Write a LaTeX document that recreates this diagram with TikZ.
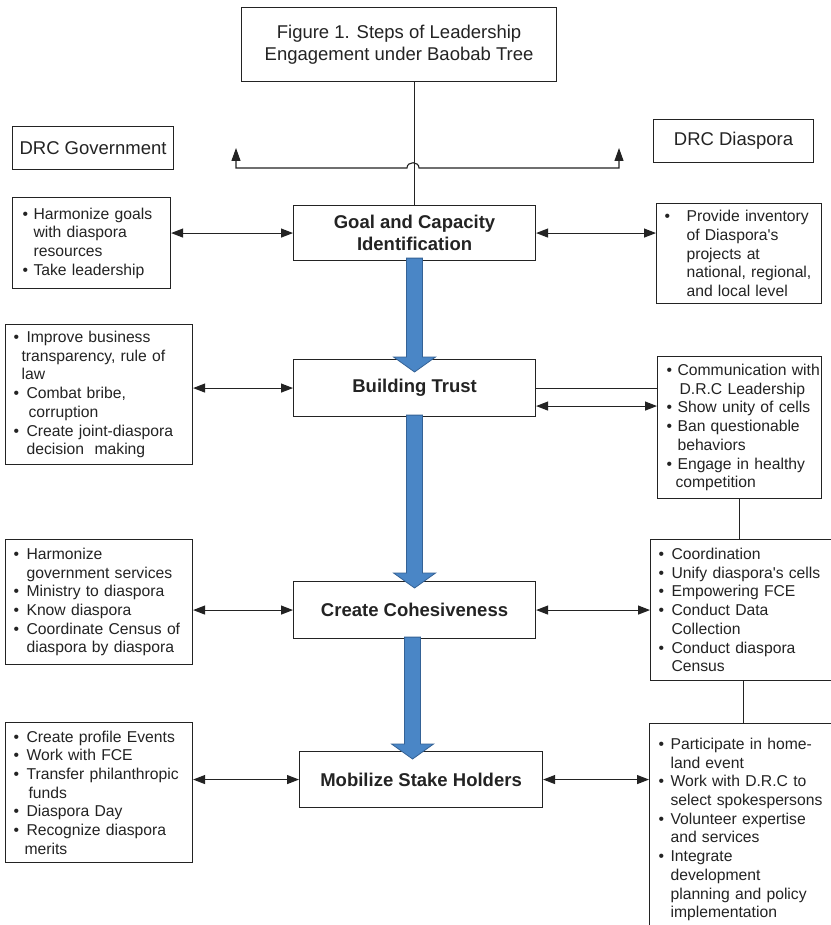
\documentclass[tikz,border=0pt]{standalone}
\usepackage{fontspec}
\setmainfont{Liberation Sans}
\usetikzlibrary{arrows.meta,calc}
\definecolor{arrowblue}{RGB}{74,134,198}
\definecolor{arrowedge}{RGB}{52,98,150}
\definecolor{ink}{RGB}{35,35,35}
\newcommand\bl[2][13pt]{\mbox{\makebox[#1][l]{\textbullet}#2}}
\newcommand\cl[2][13pt]{\mbox{\hspace*{#1}#2}}
\newcommand\apos{\textquotesingle}
\newcommand\blockarrow[2]{\filldraw[fill=arrowblue,draw=arrowedge,line width=0.8pt]
  let \p1=(#1), \p2=(#2) in
  (\x1-8pt,\y1) -- (\x1+8pt,\y1) -- (\x1+8pt,\y2+15pt) -- (\x1+21pt,\y2+15pt)
  -- (\x1,\y2) -- (\x1-21pt,\y2+15pt) -- (\x1-8pt,\y2+15pt) -- cycle;}
\begin{document}
\begin{tikzpicture}[x=1pt,y=-1pt,
  box/.style={draw=ink, line width=1.1pt, anchor=north west, inner ysep=0pt, text=ink},
  listbox/.style={box, align=left, font=\fontsize{15.7}{18.7}\selectfont},
  stepbox/.style={box, align=center, font=\bfseries\fontsize{18.5}{21.7}\selectfont},
  labelbox/.style={box, align=center, font=\fontsize{18.5}{21.7}\selectfont},
  link/.style={draw=ink, line width=1.1pt},
  dbl/.style={link, {Triangle[length=12pt,width=9pt]}-{Triangle[length=12pt,width=9pt]}}
]
\path[use as bounding box, fill=white] (0,0) rectangle (830,925);

% title and labels
\node[labelbox, minimum width=315pt, minimum height=74pt] (title) at (241,7)
  {Figure 1. Steps of Leadership\\Engagement under Baobab Tree};
\node[labelbox, minimum width=161pt, minimum height=43pt] (gov) at (12,126) {DRC Government};
\node[labelbox, minimum width=160pt, minimum height=43pt] (dia) at (653,119) {DRC Diaspora};

% central steps
\node[stepbox, minimum width=242pt, minimum height=55pt] (goal) at (293,205)
  {Goal and Capacity\\Identification};
\node[stepbox, minimum width=242pt, minimum height=57pt] (trust) at (293,359) {Building Trust};
\node[stepbox, minimum width=242pt, minimum height=57pt] (coh) at (293,581) {Create Cohesiveness};
\node[stepbox, minimum width=243pt, minimum height=56pt] (mob) at (299,751) {Mobilize Stake Holders};

% left boxes
\node[listbox, minimum width=158pt, minimum height=91pt, inner xsep=10pt, text width=138pt] (goalL) at (12,197)
  {\bl[11pt]{Harmonize goals}\\ \cl[11pt]{with diaspora}\\ \cl[11pt]{resources}\\ \bl[11pt]{Take leadership}};
\node[listbox, minimum width=187pt, minimum height=140pt, inner xsep=8pt, text width=171pt] (trustL) at (5,324)
  {\bl{Improve business}\\ \cl[8pt]{transparency, rule of}\\ \cl[8pt]{law}\\ \bl{Combat bribe,}\\ \cl[15pt]{corruption}\\ \bl{Create joint-diaspora}\\ \cl{decision\ \ making}};
\node[listbox, minimum width=187pt, minimum height=125pt, inner xsep=8pt, text width=171pt] (cohL) at (5,539)
  {\bl{Harmonize}\\ \cl{government services}\\ \bl{Ministry to diaspora}\\ \bl{Know diaspora}\\ \bl{Coordinate Census of}\\ \cl{diaspora by diaspora}};
\node[listbox, minimum width=187pt, minimum height=140pt, inner xsep=8pt, text width=171pt] (mobL) at (5,722)
  {\bl{Create profile Events}\\ \bl{Work with FCE}\\ \bl{Transfer philanthropic}\\ \cl[15pt]{funds}\\ \bl{Diaspora Day}\\ \bl{Recognize diaspora}\\ \cl[11pt]{merits}};

% right boxes
\node[listbox, minimum width=165pt, minimum height=100pt, inner xsep=8pt, text width=149pt] (goalR) at (656,203)
  {\bl[22pt]{Provide inventory}\\ \cl[22pt]{of Diaspora\apos s}\\ \cl[22pt]{projects at}\\ \cl[22pt]{national, regional,}\\ \cl[22pt]{and local level}};
\node[listbox, minimum width=164pt, minimum height=142pt, inner xsep=9pt, text width=146pt] (trustR) at (657,356)
  {\bl[11pt]{Communication with}\\ \cl[13pt]{D.R.C Leadership}\\ \bl[11pt]{Show unity of cells}\\ \bl[11pt]{Ban questionable}\\ \cl[11pt]{behaviors}\\ \bl[11pt]{Engage in healthy}\\ \cl[9pt]{competition}};
\node[listbox, minimum width=186pt, minimum height=141pt, inner xsep=8pt, text width=170pt] (cohR) at (650,539)
  {\bl{Coordination}\\ \bl{Unify diaspora\apos s cells}\\ \bl{Empowering FCE}\\ \bl{Conduct Data}\\ \cl{Collection}\\ \bl{Conduct diaspora}\\ \cl{Census}};
\node[listbox, minimum width=190pt, minimum height=212pt, inner xsep=9pt, text width=172pt] (mobR) at (649,723)
  {\bl[12pt]{Participate in home-}\\ \cl[12pt]{land event}\\ \bl[12pt]{Work with D.R.C to}\\ \cl[12pt]{select spokespersons}\\ \bl[12pt]{Volunteer expertise}\\ \cl[12pt]{and services}\\ \bl[12pt]{Integrate}\\ \cl[12pt]{development}\\ \cl[12pt]{planning and policy}\\ \cl[12pt]{implementation}};

% title connector with line jump and upward arrows
\coordinate (govtip) at (236,148);
\coordinate (diatip) at (619,148);
\coordinate (bl) at (236,168);
\coordinate (br) at (619,168);
\coordinate (j1) at (407,168);
\coordinate (j2) at (419,168);
\draw[link] (title.south -| goal.north) -- (goal.north);
\draw[link, {Triangle[length=13pt,width=9pt]}-{Triangle[length=13pt,width=9pt]}]
  (govtip) -- (bl) -- (j1) .. controls (407,161) and (419,161) .. (j2) -- (br) -- (diatip);

% horizontal connectors
\draw[dbl] (goalL.east |- goal.west) -- (goal.west);
\draw[dbl] (goal.east) -- (goal.east -| goalR.west);
\draw[dbl] (trustL.east |- trust.west) -- (trust.west);
\draw[link] (trust.east) -- (trust.east -| trustR.west);
\coordinate (t2) at ([yshift=-18pt]trust.east);
\draw[dbl] (t2) -- (t2 -| trustR.west);
\draw[dbl] (cohL.east |- coh.west) -- (coh.west);
\draw[dbl] (coh.east) -- (coh.east -| cohR.west);
\draw[dbl] (mobL.east |- mob.west) -- (mob.west);
\draw[dbl] (mob.east) -- (mob.east -| mobR.west);

% right-column vertical links
\draw[link] (trustR.south) -- (trustR.south |- cohR.north);
\draw[link] (cohR.south) -- (cohR.south |- mobR.north);

% blue block arrows
\coordinate (a1s) at ([yshift=3pt]goal.south);
\coordinate (a1e) at ([yshift=-13pt]trust.north);
\coordinate (a2s) at ([yshift=2pt]trust.south);
\coordinate (a2e) at ([yshift=-7pt]coh.north);
\coordinate (a3s) at ([xshift=-2pt,yshift=2pt]coh.south);
\coordinate (a3e) at ([yshift=-8pt]mob.north);
\blockarrow{a1s}{a1e}
\blockarrow{a2s}{a2e}
\blockarrow{a3s}{a3e}
\end{tikzpicture}
\end{document}
